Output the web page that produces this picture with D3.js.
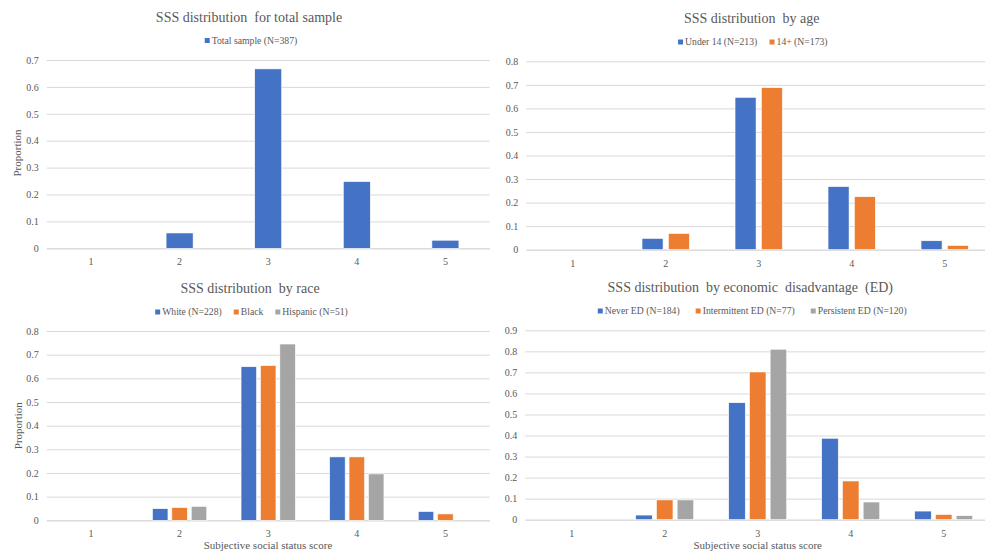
<!DOCTYPE html>
<html>
<head>
<meta charset="utf-8">
<script src="https://cdn.jsdelivr.net/npm/d3@7"></script>
<style>
  html, body { margin: 0; padding: 0; background: #fff; }
  svg { display: block; font-family: "Liberation Serif", "Times New Roman", serif; }
</style>
</head>
<body>
<svg id="chart" width="985" height="557"></svg>
<script>
// ---------- data ----------
const categories = ["1", "2", "3", "4", "5"];

const totalSample = [0, 0.057, 0.667, 0.248, 0.030];

const under14 = [0, 0.048, 0.647, 0.268, 0.038];
const age14plus = [0, 0.069, 0.688, 0.225, 0.018];

const white = [0, 0.049, 0.649, 0.268, 0.037];
const black = [0, 0.054, 0.654, 0.268, 0.027];
const hispanic = [0, 0.059, 0.745, 0.196, 0];

const neverED = [0, 0.022, 0.556, 0.387, 0.041];
const intermittentED = [0, 0.094, 0.702, 0.184, 0.025];
const persistentED = [0, 0.094, 0.810, 0.084, 0.019];

const yMax1 = 0.7, yMax2 = 0.8, yMax3 = 0.8, yMax4 = 0.9;

const titles = [
  "SSS distribution  for total sample",
  "SSS distribution  by age",
  "SSS distribution  by race",
  "SSS distribution  by economic  disadvantage  (ED)"
];
const yAxisTitle = "Proportion";
const xAxisTitle = "Subjective social status score";

const colors = ["#4472C4", "#ED7D31", "#A5A5A5"];

// ---------- panels ----------
const panels = [
  { title: titles[0], series: [{ name: "Total sample (N=387)", values: totalSample }],
    yMax: yMax1, left: 46.7, right: 489.7, top: 60, bottom: 248.3,
    titleX: 249, titleY: 21.5, legendX: 251, legendY: 43.5, legendGap: 12,
    groupRatio: 0.305, yTitle: { x: 17, y: 153 }, xTitle: null },
  { title: titles[1], series: [{ name: "Under 14 (N=213)", values: under14 }, { name: "14+ (N=173)", values: age14plus }],
    yMax: yMax2, left: 526.2, right: 991.2, top: 61.3, bottom: 249.7,
    titleX: 751.7, titleY: 23, legendX: 752.8, legendY: 45, legendGap: 12.3,
    groupRatio: 0.509, yTitle: null, xTitle: null },
  { title: titles[2], series: [{ name: "White (N=228)", values: white }, { name: "Black", values: black }, { name: "Hispanic (N=51)", values: hispanic }],
    yMax: yMax3, left: 46.7, right: 489.7, top: 331, bottom: 520.3,
    titleX: 250, titleY: 292.5, legendX: 251.5, legendY: 315, legendGap: 12,
    groupRatio: 0.613, yTitle: { x: 18, y: 425.7 }, xTitle: { x: 268, y: 549 } },
  { title: titles[3], series: [{ name: "Never ED (N=184)", values: neverED }, { name: "Intermittent ED (N=77)", values: intermittentED }, { name: "Persistent ED (N=120)", values: persistentED }],
    yMax: yMax4, left: 525.2, right: 990.2, top: 330.3, bottom: 519.7,
    titleX: 750.3, titleY: 292, legendX: 752.2, legendY: 314, legendGap: 16,
    groupRatio: 0.624, yTitle: null, xTitle: { x: 757.7, y: 549 } }
];

const svg = d3.select("#chart");
const textColor = "#595959";
const gridColor = "#d9d9d9";
const serif = "Liberation Serif";

panels.forEach(p => {
  const g = svg.append("g");
  const x0 = d3.scaleBand().domain(categories).range([p.left, p.right]).paddingInner(0).paddingOuter(0);
  const y = d3.scaleLinear().domain([0, p.yMax]).range([p.bottom, p.top]);
  const yTicks = d3.range(0, Math.round(p.yMax * 10) + 1).map(i => i / 10);

  // gridlines + y tick labels
  const yAxis = d3.axisLeft(y).tickValues(yTicks)
    .tickFormat(d => d === 0 ? "0" : d3.format(".1f")(d))
    .tickSize(-(Math.min(p.right, 985) - p.left)).tickPadding(8);
  const ya = g.append("g").attr("transform", `translate(${p.left},0)`).call(yAxis)
    .attr("font-family", serif);
  ya.select(".domain").remove();
  ya.selectAll(".tick line").attr("stroke", gridColor).attr("stroke-width", 1);
  ya.selectAll(".tick text").attr("fill", textColor).attr("font-size", 10);

  // x axis labels
  const xAxis = d3.axisBottom(x0).tickSize(0).tickPadding(10);
  const xa = g.append("g").attr("transform", `translate(0,${p.bottom})`).call(xAxis)
    .attr("font-family", serif);
  xa.select(".domain").attr("stroke", gridColor);
  xa.selectAll(".tick text").attr("fill", textColor).attr("font-size", 10);

  // bars
  const names = p.series.map(s => s.name);
  const groupW = x0.bandwidth() * p.groupRatio;
  const x1 = d3.scaleBand().domain(names).range([-groupW / 2, groupW / 2])
    .paddingInner(p.series.length > 1 ? 0.2 : 0).paddingOuter(0);

  p.series.forEach((s, si) => {
    g.append("g").selectAll("rect").data(s.values.map((v, i) => ({ cat: categories[i], v })))
      .join("rect")
      .filter(d => d.v > 0)
      .attr("x", d => x0(d.cat) + x0.bandwidth() / 2 + x1(s.name))
      .attr("width", x1.bandwidth())
      .attr("y", d => y(d.v))
      .attr("height", d => y(0) - y(d.v))
      .attr("fill", colors[si])
      .attr("stroke", "#fff").attr("stroke-width", 0.6);
  });

  // title
  g.append("text").attr("x", p.titleX).attr("y", p.titleY)
    .attr("text-anchor", "middle").attr("fill", textColor)
    .attr("font-size", 14).style("white-space", "pre").text(p.title);

  // legend
  const lg = g.append("g");
  let cx = 0;
  p.series.forEach((s, si) => {
    const it = lg.append("g");
    it.append("rect").attr("x", 0).attr("y", -5.5).attr("width", 5).attr("height", 5).attr("fill", colors[si]);
    const t = it.append("text").attr("x", 7).attr("y", 0).attr("fill", textColor)
      .attr("font-size", 9.7).text(s.name);
    const w = 7 + t.node().getComputedTextLength();
    it.attr("transform", `translate(${cx},0)`);
    cx += w + p.legendGap;
  });
  const totalW = cx - p.legendGap;
  lg.attr("transform", `translate(${p.legendX - totalW / 2},${p.legendY})`);

  if (p.yTitle) {
    g.append("text").attr("transform", `translate(${p.yTitle.x + 4},${p.yTitle.y}) rotate(-90)`)
      .attr("text-anchor", "middle").attr("fill", textColor).attr("font-size", 11).text(yAxisTitle);
  }
  if (p.xTitle) {
    g.append("text").attr("x", p.xTitle.x).attr("y", p.xTitle.y)
      .attr("text-anchor", "middle").attr("fill", textColor).attr("font-size", 11).text(xAxisTitle);
  }
});
</script>
</body>
</html>
